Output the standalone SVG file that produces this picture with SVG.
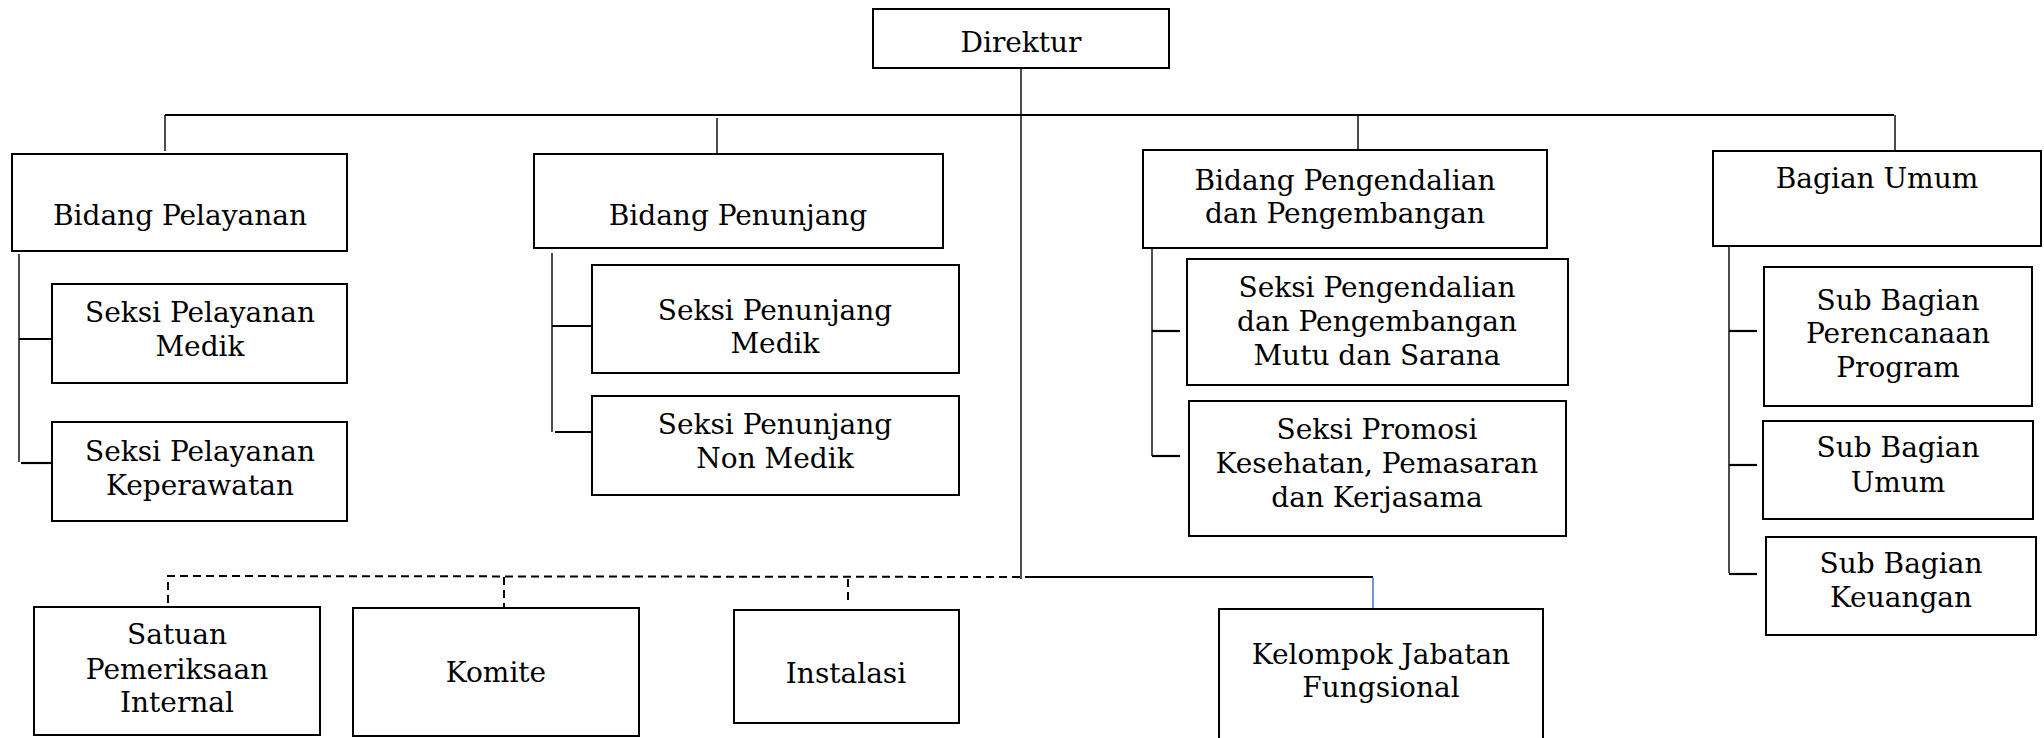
<svg xmlns="http://www.w3.org/2000/svg" width="2044" height="738" viewBox="0 0 2044 738">
<style>
.box{fill:#fff;stroke:#000;stroke-width:2}
.ln{fill:none;stroke:#000;stroke-width:1.4}
.th{fill:none;stroke:#000;stroke-width:2.2}
.ds{fill:none;stroke:#000;stroke-width:2;stroke-dasharray:8 5}
text{font-family:"DejaVu Serif","Liberation Serif",serif;font-size:28px;fill:#000;text-anchor:middle}
</style>
<rect width="2044" height="738" fill="#fff"/>
<g id="connectors">
<line class="ln" x1="1021" y1="68" x2="1021" y2="579"/>
<line class="th" x1="165" y1="115" x2="1894" y2="115"/>
<line class="ln" x1="165" y1="115" x2="165" y2="151"/>
<line class="ln" x1="717" y1="118" x2="717" y2="154"/>
<line class="ln" x1="1358" y1="115" x2="1358" y2="150"/>
<line class="ln" x1="1895" y1="115" x2="1895" y2="151"/>
<line class="ln" x1="19" y1="254" x2="19" y2="462"/>
<line class="th" x1="19" y1="339" x2="52" y2="339"/>
<line class="th" x1="21" y1="463" x2="52" y2="463"/>
<line class="ln" x1="552" y1="253" x2="552" y2="432"/>
<line class="th" x1="552" y1="326" x2="592" y2="326"/>
<line class="th" x1="555" y1="432" x2="592" y2="432"/>
<line class="ln" x1="1152" y1="245" x2="1152" y2="456"/>
<line class="th" x1="1152" y1="331" x2="1180" y2="331"/>
<line class="th" x1="1152" y1="456" x2="1180" y2="456"/>
<line class="ln" x1="1729" y1="243" x2="1729" y2="573"/>
<line class="th" x1="1729" y1="331" x2="1757" y2="331"/>
<line class="th" x1="1729" y1="465" x2="1757" y2="465"/>
<line class="th" x1="1729" y1="574" x2="1757" y2="574"/>
<path class="ds" d="M1020 577 L168 576 L168 604"/>
<line class="ds" x1="504" y1="577" x2="504" y2="607"/>
<line class="ds" x1="848" y1="579" x2="848" y2="602"/>
<line class="th" x1="1025" y1="577" x2="1373" y2="577"/>
<line x1="1373" y1="578" x2="1373" y2="609" stroke="#4472c4" stroke-width="1.5"/>
</g>
<g id="direktur"><rect class="box" x="873" y="9" width="296" height="59"/><text x="1021" y="52">Direktur</text></g>
<g id="bidang-pelayanan"><rect class="box" x="12" y="154" width="335" height="97"/><text x="180" y="225">Bidang Pelayanan</text></g>
<g id="bidang-penunjang"><rect class="box" x="534" y="154" width="409" height="94"/><text x="738" y="225">Bidang Penunjang</text></g>
<g id="bidang-pengendalian"><rect class="box" x="1143" y="150" width="404" height="98"/><text x="1345" y="190">Bidang Pengendalian</text><text x="1345" y="223">dan Pengembangan</text></g>
<g id="bagian-umum"><rect class="box" x="1713" y="151" width="328" height="95"/><text x="1877" y="188">Bagian Umum</text></g>
<g id="seksi-pelayanan-medik"><rect class="box" x="52" y="284" width="295" height="99"/><text x="200" y="322">Seksi Pelayanan</text><text x="200" y="356">Medik</text></g>
<g id="seksi-pelayanan-keperawatan"><rect class="box" x="52" y="422" width="295" height="99"/><text x="200" y="461">Seksi Pelayanan</text><text x="200" y="495">Keperawatan</text></g>
<g id="seksi-penunjang-medik"><rect class="box" x="592" y="265" width="367" height="108"/><text x="775" y="320">Seksi Penunjang</text><text x="775" y="353">Medik</text></g>
<g id="seksi-penunjang-non-medik"><rect class="box" x="592" y="396" width="367" height="99"/><text x="775" y="434">Seksi Penunjang</text><text x="775" y="468">Non Medik</text></g>
<g id="seksi-pengendalian"><rect class="box" x="1187" y="259" width="381" height="126"/><text x="1377" y="297">Seksi Pengendalian</text><text x="1377" y="331">dan Pengembangan</text><text x="1377" y="365">Mutu dan Sarana</text></g>
<g id="seksi-promosi"><rect class="box" x="1189" y="401" width="377" height="135"/><text x="1377" y="439">Seksi Promosi</text><text x="1377" y="473">Kesehatan, Pemasaran</text><text x="1377" y="507">dan Kerjasama</text></g>
<g id="sub-bagian-perencanaan"><rect class="box" x="1764" y="267" width="268" height="139"/><text x="1898" y="310">Sub Bagian</text><text x="1898" y="343">Perencanaan</text><text x="1898" y="377">Program</text></g>
<g id="sub-bagian-umum"><rect class="box" x="1763" y="421" width="270" height="98"/><text x="1898" y="457">Sub Bagian</text><text x="1898" y="492">Umum</text></g>
<g id="sub-bagian-keuangan"><rect class="box" x="1766" y="537" width="270" height="98"/><text x="1901" y="573">Sub Bagian</text><text x="1901" y="607">Keuangan</text></g>
<g id="satuan-pemeriksaan"><rect class="box" x="34" y="607" width="286" height="128"/><text x="177" y="644">Satuan</text><text x="177" y="679">Pemeriksaan</text><text x="177" y="712">Internal</text></g>
<g id="komite"><rect class="box" x="353" y="608" width="286" height="128"/><text x="496" y="682">Komite</text></g>
<g id="instalasi"><rect class="box" x="734" y="610" width="225" height="113"/><text x="846" y="683">Instalasi</text></g>
<g id="kelompok-jabatan"><rect class="box" x="1219" y="609" width="324" height="140"/><text x="1381" y="664">Kelompok Jabatan</text><text x="1381" y="697">Fungsional</text></g>
</svg>
